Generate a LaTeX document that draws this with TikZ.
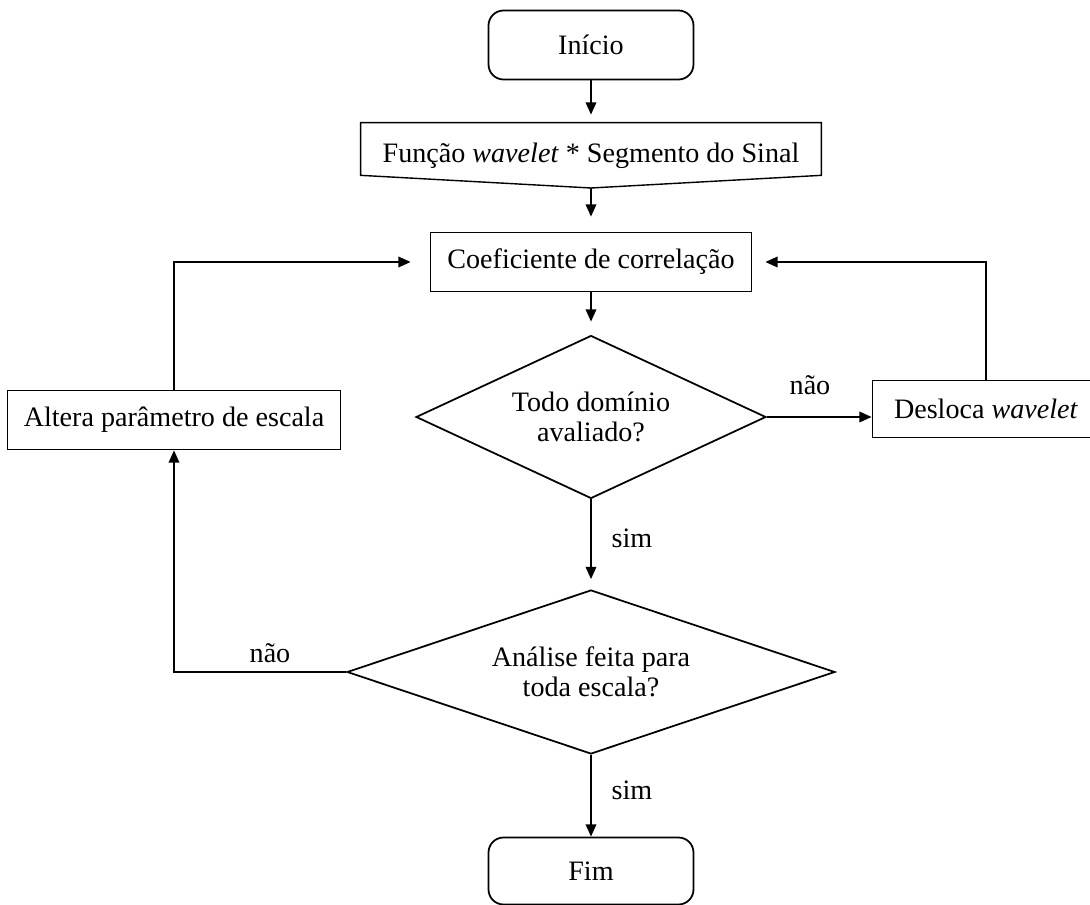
\documentclass[tikz,border=0pt]{standalone}
\usepackage{fontspec}
\setmainfont{Liberation Serif}
\usepackage{tikz}
\usetikzlibrary{calc,shapes.geometric,arrows.meta}

\begin{document}
\begin{tikzpicture}[x=0.02cm,y=-0.02cm,
    font=\fontsize{16}{17}\selectfont,
    terminal/.style={shape=rectangle,rounded corners=0.3cm,draw=black,line width=1pt,minimum width=4.1cm,minimum height=1.38cm},
    caixa/.style={shape=rectangle,draw=black,line width=1pt,minimum height=1.18cm},
    decisao/.style={shape=diamond,draw=black,line width=1pt,align=center,inner sep=0pt},
    seta/.style={-{Triangle[length=7pt,width=6pt]},line width=1pt}]
\useasboundingbox (0,0) rectangle (1090,905);

    \node[terminal] (inicio) at (591,45) {Início};
\node[minimum width=9.2cm,minimum height=1.04cm,text height=0.66cm,text depth=0.1cm] (funcao) at (591,149) {Função \textit{wavelet} * Segmento do Sinal};
\coordinate (funcaov) at (591,188);
\draw[line width=0.8pt] (funcao.north west) -- (funcao.north east) -- (funcao.south east) -- (funcaov) -- (funcao.south west) -- cycle;
\node[caixa,minimum width=6.42cm] (coef) at (591,262) {Coeficiente de correlação};
\node[decisao,shape aspect=2.2,minimum width=7cm,minimum height=3.26cm] (todo) at (591,417) {Todo domínio\\avaliado?};
\node[caixa,minimum width=4.54cm,minimum height=1.14cm] (desloca) at (986,409) {Desloca \textit{wavelet}};
\node[caixa,minimum width=6.66cm] (altera) at (174,420) {Altera parâmetro de escala};
\node[decisao,shape aspect=3,minimum width=9.76cm,minimum height=3.28cm] (analise) at (591,672) {Análise feita para\\toda escala?};
\node[terminal,minimum height=1.34cm] (fim) at (591,871) {Fim};
\node (nao1) at (810,385) {não};
\node (sim1) at (632,538) {sim};
\node (nao2) at (270,653) {não};
\node (sim2) at (632,790) {sim};
\path[seta,shorten >=0.16cm] (inicio) edge (funcao);
\path[seta,shorten >=0.3cm] (funcaov) edge (coef);
\path[seta,shorten >=0.26cm] (coef) edge (todo);
\path[seta] (todo) edge (todo.east -| desloca.west);
\path[seta,shorten >=0.2cm] (todo) edge (analise);
\path[seta] (analise) edge (fim);
\draw[seta,shorten >=0.26cm] (desloca.north) |- (coef.east);
\draw[seta,shorten >=0.38cm] (altera.north) |- (coef.west);
\draw[seta] (analise.west) -| (altera.south);

    \end{tikzpicture}
\end{document}
